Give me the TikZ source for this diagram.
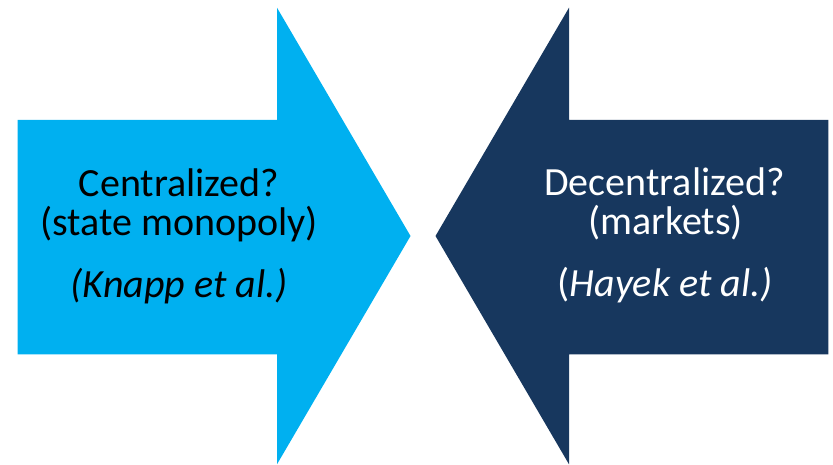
\documentclass[tikz,border=0pt]{standalone}
\usepackage{fontspec}
\setmainfont{Carlito}
\definecolor{lightarrow}{HTML}{00B0F0}
\definecolor{darkarrow}{HTML}{17375E}
\begin{document}
\begin{tikzpicture}[x=1pt,y=-1pt,
  lbl/.style={anchor=base,inner sep=0pt,font=\fontsize{40}{40}\selectfont},
  ltxt/.style={lbl,text=black},
  rtxt/.style={lbl,text=white}]
\useasboundingbox (0,0) rectangle (833,465);
% left arrow (pointing right)
\fill[lightarrow] (17.5,120) -- (277,120) -- (277,7.7) -- (410.5,236) -- (277,464.3) -- (277,354.3) -- (17.5,354.3) -- cycle;
% right arrow (pointing left)
\fill[darkarrow] (828.3,120) -- (569,120) -- (569,7.7) -- (435.5,236) -- (569,464.3) -- (569,354.3) -- (828.3,354.3) -- cycle;
% left text
\node[ltxt] (l1) at (179,196.7) {Centralized?};
\node[ltxt] (l2) at (179,235.5) {(state monopoly)};
\node[ltxt] (l3) at (179,297.5) {\itshape (Knapp et al.)};
% right text
\node[rtxt] (r1) at (664.5,195.5) {Decentralized?};
\node[rtxt] (r2) at (665.5,234.5) {(markets)};
\node[rtxt] (r3) at (665,296.5) {({\itshape Hayek et al.)}};
\end{tikzpicture}
\end{document}
